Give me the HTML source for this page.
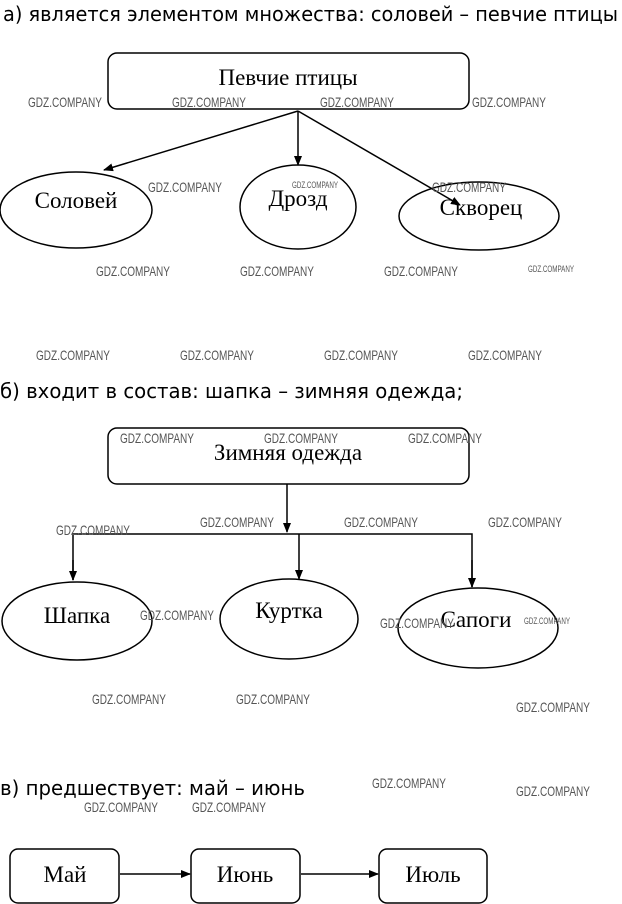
<!DOCTYPE html>
<html><head><meta charset="utf-8"><style>
html,body{margin:0;padding:0;background:#fff;}
svg{display:block;}
.t{font-family:"DejaVu Sans","Liberation Sans",sans-serif;font-size:20px;fill:#000;}
.s{font-family:"Liberation Serif",serif;font-size:23px;fill:#000;}
.w{font-family:"Liberation Sans",sans-serif;font-size:14px;fill:#555;}
.ws{font-family:"Liberation Sans",sans-serif;font-size:9px;fill:#555;}
</style></head><body>
<svg width="622" height="904" viewBox="0 0 622 904" xmlns="http://www.w3.org/2000/svg">
<defs><marker id="a" markerWidth="10" markerHeight="8" refX="9" refY="4" orient="auto" markerUnits="userSpaceOnUse"><path d="M0,0 L10,4 L0,8 z" fill="#000"/></marker></defs>
<g fill="none" stroke="#000" stroke-width="1.5">
<rect x="108" y="53" width="361" height="56" rx="9"/>
<line x1="298" y1="111" x2="104" y2="170" marker-end="url(#a)"/>
<line x1="298" y1="111" x2="298" y2="165" marker-end="url(#a)"/>
<line x1="298" y1="111" x2="460" y2="205" marker-end="url(#a)"/>
<ellipse cx="76" cy="210" rx="76" ry="38"/>
<ellipse cx="298" cy="207" rx="58" ry="42"/>
<ellipse cx="479" cy="216" rx="80" ry="34"/>
<rect x="108" y="428" width="361" height="56" rx="9"/>
<line x1="287" y1="484" x2="287" y2="532" marker-end="url(#a)"/>
<polyline points="73,580 73,534 472,534 472,587"/>
<line x1="73" y1="560" x2="73" y2="580" marker-end="url(#a)"/>
<line x1="299" y1="534" x2="299" y2="579" marker-end="url(#a)"/>
<line x1="472" y1="560" x2="472" y2="587" marker-end="url(#a)"/>
<ellipse cx="77" cy="621" rx="75" ry="39"/>
<ellipse cx="289" cy="619" rx="69" ry="40"/>
<ellipse cx="478" cy="628" rx="80" ry="40"/>
<rect x="10" y="849" width="109" height="54" rx="8"/>
<rect x="191" y="849" width="109" height="54" rx="8"/>
<rect x="379" y="849" width="108" height="54" rx="8"/>
<line x1="120" y1="874" x2="190" y2="874" marker-end="url(#a)"/>
<line x1="301" y1="874" x2="378" y2="874" marker-end="url(#a)"/>
</g>
<text class="t" x="3" y="21" textLength="615" lengthAdjust="spacingAndGlyphs">а) является элементом множества: соловей – певчие птицы</text>
<text class="t" x="0" y="398" textLength="463" lengthAdjust="spacingAndGlyphs">б) входит в состав: шапка – зимняя одежда;</text>
<text class="t" x="0" y="795" textLength="305" lengthAdjust="spacingAndGlyphs">в) предшествует: май – июнь</text>
<g class="s" text-anchor="middle">
<text x="288" y="85">Певчие птицы</text>
<text x="76" y="208">Соловей</text>
<text x="298" y="206">Дрозд</text>
<text x="481" y="215">Скворец</text>
<text x="288" y="460">Зимняя одежда</text>
<text x="77" y="623">Шапка</text>
<text x="289" y="618">Куртка</text>
<text x="476" y="627">Сапоги</text>
<text x="65" y="882">Май</text>
<text x="245" y="882">Июнь</text>
<text x="433" y="882">Июль</text>
</g>
<g class="w">
<text x="28" y="107" textLength="74" lengthAdjust="spacingAndGlyphs">GDZ.COMPANY</text>
<text x="172" y="107" textLength="74" lengthAdjust="spacingAndGlyphs">GDZ.COMPANY</text>
<text x="320" y="107" textLength="74" lengthAdjust="spacingAndGlyphs">GDZ.COMPANY</text>
<text x="472" y="107" textLength="74" lengthAdjust="spacingAndGlyphs">GDZ.COMPANY</text>
<text x="148" y="192" textLength="74" lengthAdjust="spacingAndGlyphs">GDZ.COMPANY</text>
<text x="432" y="192" textLength="74" lengthAdjust="spacingAndGlyphs">GDZ.COMPANY</text>
<text x="96" y="276" textLength="74" lengthAdjust="spacingAndGlyphs">GDZ.COMPANY</text>
<text x="240" y="276" textLength="74" lengthAdjust="spacingAndGlyphs">GDZ.COMPANY</text>
<text x="384" y="276" textLength="74" lengthAdjust="spacingAndGlyphs">GDZ.COMPANY</text>
<text x="36" y="360" textLength="74" lengthAdjust="spacingAndGlyphs">GDZ.COMPANY</text>
<text x="180" y="360" textLength="74" lengthAdjust="spacingAndGlyphs">GDZ.COMPANY</text>
<text x="324" y="360" textLength="74" lengthAdjust="spacingAndGlyphs">GDZ.COMPANY</text>
<text x="468" y="360" textLength="74" lengthAdjust="spacingAndGlyphs">GDZ.COMPANY</text>
<text x="120" y="443" textLength="74" lengthAdjust="spacingAndGlyphs">GDZ.COMPANY</text>
<text x="264" y="443" textLength="74" lengthAdjust="spacingAndGlyphs">GDZ.COMPANY</text>
<text x="408" y="443" textLength="74" lengthAdjust="spacingAndGlyphs">GDZ.COMPANY</text>
<text x="200" y="527" textLength="74" lengthAdjust="spacingAndGlyphs">GDZ.COMPANY</text>
<text x="344" y="527" textLength="74" lengthAdjust="spacingAndGlyphs">GDZ.COMPANY</text>
<text x="488" y="527" textLength="74" lengthAdjust="spacingAndGlyphs">GDZ.COMPANY</text>
<text x="56" y="535" textLength="74" lengthAdjust="spacingAndGlyphs">GDZ.COMPANY</text>
<text x="140" y="620" textLength="74" lengthAdjust="spacingAndGlyphs">GDZ.COMPANY</text>
<text x="380" y="628" textLength="74" lengthAdjust="spacingAndGlyphs">GDZ.COMPANY</text>
<text x="92" y="704" textLength="74" lengthAdjust="spacingAndGlyphs">GDZ.COMPANY</text>
<text x="236" y="704" textLength="74" lengthAdjust="spacingAndGlyphs">GDZ.COMPANY</text>
<text x="516" y="712" textLength="74" lengthAdjust="spacingAndGlyphs">GDZ.COMPANY</text>
<text x="372" y="788" textLength="74" lengthAdjust="spacingAndGlyphs">GDZ.COMPANY</text>
<text x="516" y="796" textLength="74" lengthAdjust="spacingAndGlyphs">GDZ.COMPANY</text>
<text x="84" y="812" textLength="74" lengthAdjust="spacingAndGlyphs">GDZ.COMPANY</text>
<text x="192" y="812" textLength="74" lengthAdjust="spacingAndGlyphs">GDZ.COMPANY</text>
</g>
<g class="ws">
<text x="292" y="188" textLength="46" lengthAdjust="spacingAndGlyphs">GDZ.COMPANY</text>
<text x="528" y="272" textLength="46" lengthAdjust="spacingAndGlyphs">GDZ.COMPANY</text>
<text x="524" y="624" textLength="46" lengthAdjust="spacingAndGlyphs">GDZ.COMPANY</text>
</g>
</svg>
</body></html>
